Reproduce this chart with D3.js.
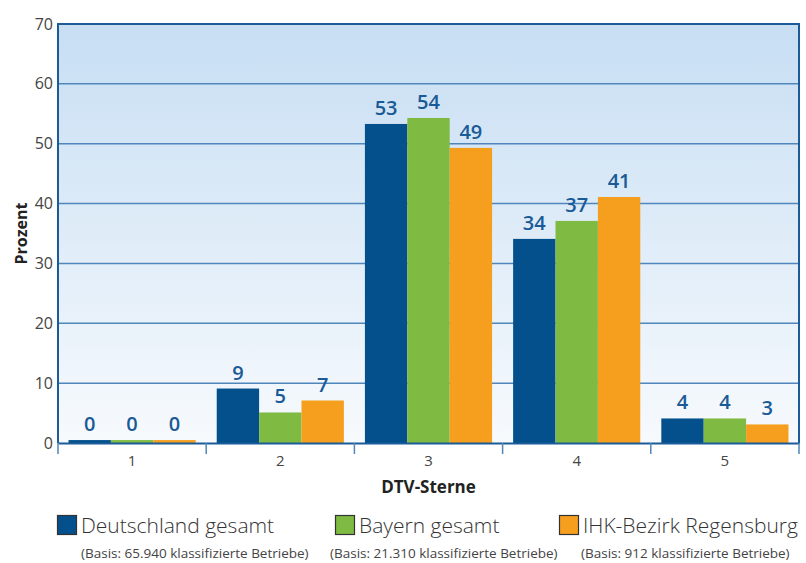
<!DOCTYPE html>
<html>
<head>
<meta charset="UTF-8">
<style>
  body { margin: 0; background: #fff; }
  svg { display: block; font-family: 'Open Sans', sans-serif; }
  .val { fill: #1a5a96; font-size: 20px; font-weight: 600; text-anchor: middle; }
</style>
</head>
<body>
<script src="https://cdn.jsdelivr.net/npm/d3@7"></script>
<script>
// data
const categories = ["1", "2", "3", "4", "5"];
const seriesNames = ["Deutschland gesamt", "Bayern gesamt", "IHK-Bezirk Regensburg"];
const seriesBasis = ["(Basis: 65.940 klassifizierte Betriebe)", "(Basis: 21.310 klassifizierte Betriebe)", "(Basis: 912 klassifizierte Betriebe)"];
const deutschland = [0.49, 9.1, 53.3, 34.1, 4.1];
const bayern = [0.49, 5.1, 54.3, 37.1, 4.1];
const regensburg = [0.49, 7.1, 49.3, 41.1, 3.1];
const yTicks = [0, 10, 20, 30, 40, 50, 60, 70];

const colors = ["#03508c", "#7fba42", "#f69f1e"];
const series = [deutschland, bayern, regensburg];

let width = 806, height = 563;
let m = {left: 58, right: 7, top: 24, bottom: 120};

let svg = d3.select("body").append("svg")
  .attr("width", width).attr("height", height);

let x = d3.scaleBand().domain(categories).range([m.left, width - m.right]).paddingInner(0.142).paddingOuter(0.071);
let x1 = d3.scaleBand().domain(d3.range(series.length)).range([0, x.bandwidth()]);
let y = d3.scaleLinear().domain([0, 70]).range([height - m.bottom, m.top]);

// background gradient
let grad = svg.append("defs").append("linearGradient")
  .attr("id", "bg").attr("x1", 0).attr("y1", 0).attr("x2", 0).attr("y2", 1);
grad.append("stop").attr("offset", "0%").attr("stop-color", "#c7def3");
grad.append("stop").attr("offset", "100%").attr("stop-color", "#f7fafd");

svg.append("rect")
  .attr("x", m.left).attr("y", y(70))
  .attr("width", width - m.right - m.left).attr("height", y(0) - y(70))
  .attr("fill", "url(#bg)");

// grid lines
svg.append("g").selectAll("line")
  .data(yTicks.filter(d => d > 0 && d < 70))
  .enter().append("line")
  .attr("x1", m.left).attr("x2", width - m.right)
  .attr("y1", d => y(d)).attr("y2", d => y(d))
  .attr("stroke", "#4f86bb").attr("stroke-width", 1.5);

// bars
let groups = svg.append("g").selectAll("g")
  .data(categories)
  .enter().append("g")
  .attr("transform", d => "translate(" + x(d) + ",0)");

groups.selectAll("rect")
  .data((c, i) => series.map((s, j) => ({j: j, v: s[i]})))
  .enter().append("rect")
  .attr("x", d => x1(d.j))
  .attr("width", x1.bandwidth())
  .attr("y", d => y(d.v))
  .attr("height", d => y(0) - y(d.v))
  .attr("fill", d => colors[d.j]);

groups.selectAll("text")
  .data((c, i) => series.map((s, j) => ({j: j, v: s[i]})))
  .enter().append("text")
  .attr("class", "val")
  .attr("x", d => x1(d.j) + x1.bandwidth() / 2)
  .attr("y", d => y(d.v) - 9)
  .text(d => Math.round(d.v));

// frame: top, left, right
svg.append("path")
  .attr("d", "M" + m.left + "," + y(0) + "V" + y(70) + "H" + (width - m.right) + "V" + y(0))
  .attr("fill", "none").attr("stroke", "#1b5c98").attr("stroke-width", 2);

// y axis labels
svg.append("g")
  .attr("transform", "translate(" + m.left + ",0)")
  .call(d3.axisLeft(y).tickValues(yTicks).tickSize(0).tickPadding(5))
  .call(g => g.select(".domain").remove())
  .selectAll("text").attr("font-size", 16).attr("fill", "#444")
  .attr("font-family", "'Open Sans', sans-serif");

// x axis
let xAxis = svg.append("g")
  .attr("transform", "translate(0," + y(0) + ")")
  .call(d3.axisBottom(x).tickSize(0).tickPadding(12))
  .call(g => g.select(".domain").attr("stroke", "#1b5c98").attr("stroke-width", 2));
xAxis.selectAll("text").attr("font-size", 15).attr("fill", "#444")
  .attr("font-family", "'Open Sans', sans-serif");

let bounds = x.domain().map(d => x(d) - x.step() * x.paddingInner() / 2);
bounds.push(width - m.right);
xAxis.append("g").selectAll("line")
  .data(bounds)
  .enter().append("line")
  .attr("x1", d => d).attr("x2", d => d)
  .attr("y1", 0).attr("y2", 11)
  .attr("stroke", "#4f86bb").attr("stroke-width", 1.5);

// axis titles
svg.append("text")
  .attr("transform", "translate(27," + (y(35)) + ") rotate(-90)")
  .attr("text-anchor", "middle")
  .attr("font-size", 16).attr("font-weight", "bold").attr("fill", "#222")
  .text("Prozent");

svg.append("text")
  .attr("x", (m.left + width - m.right) / 2).attr("y", 493)
  .attr("text-anchor", "middle")
  .attr("font-size", 17).attr("font-weight", "bold").attr("fill", "#222")
  .text("DTV-Sterne");

// legend
let legX = [57, 335, 559];
let baseX = [81, 330, 581];
let leg = svg.append("g").selectAll("g")
  .data(seriesNames)
  .enter().append("g");

leg.append("rect")
  .attr("x", (d, i) => legX[i] + 0.5).attr("y", 515.5)
  .attr("width", 19).attr("height", 19)
  .attr("fill", (d, i) => colors[i])
  .attr("stroke", "#333").attr("stroke-width", 1.2);

leg.append("text")
  .attr("x", (d, i) => legX[i] + 24).attr("y", 533)
  .attr("font-size", 21).attr("fill", "#333")
  .attr("font-family", "'Open Sans', sans-serif").attr("font-weight", 300)
  .text(d => d);

leg.append("text")
  .attr("x", (d, i) => baseX[i]).attr("y", 558)
  .attr("font-size", 13.5).attr("fill", "#444")
  .text((d, i) => seriesBasis[i]);
</script>
</body>
</html>
